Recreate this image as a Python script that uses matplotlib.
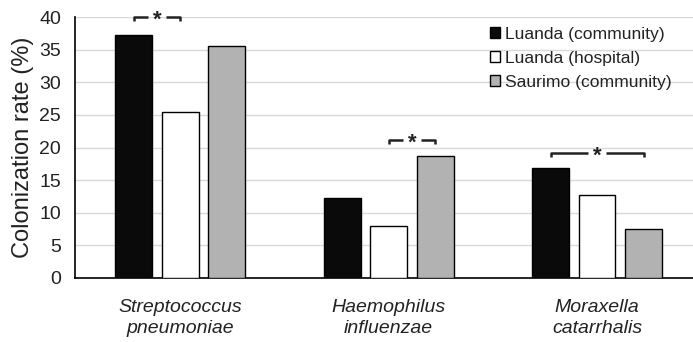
import matplotlib
matplotlib.use("Agg")
import matplotlib.pyplot as plt
import numpy as np

plt.rcParams['font.family'] = ['Liberation Sans', 'DejaVu Sans']

categories = ["Streptococcus\npneumoniae", "Haemophilus\ninfluenzae", "Moraxella\ncatarrhalis"]
series_names = ["Luanda (community)", "Luanda (hospital)", "Saurimo (community)"]
luanda_comm = [37.2, 12.3, 16.9]
luanda_hosp = [25.4, 7.9, 12.7]
saurimo_comm = [35.6, 18.7, 7.5]
colors = ["#0a0a0a", "#ffffff", "#b2b2b2"]
yticks = [0, 5, 10, 15, 20, 25, 30, 35, 40]
# significance brackets: (category index, bar index a, bar index b, y level)
brackets = [(0, 0, 1, 40.0), (1, 1, 2, 21.1), (2, 0, 2, 19.2)]

W, H = 693, 342
fig = plt.figure(figsize=(W / 100, H / 100), dpi=100)
ax = fig.add_axes([75 / W, 1 - 278 / H, 1 - 75 / W, (278 - 17) / H])

x = np.arange(len(categories))
width = 0.177
step = 0.223
series = [luanda_comm, luanda_hosp, saurimo_comm]
for i, (vals, c, name) in enumerate(zip(series, colors, series_names)):
    ax.bar(x + (i - 1) * step, vals, width, color=c, edgecolor="black",
           linewidth=1.0, label=name, zorder=3)

ax.set_ylim(0, 40)
ax.set_xlim(-0.505, (693 - 180) / 208.5)
ax.set_yticks(yticks)
ax.yaxis.grid(True, color="#d9d9d9", linewidth=1.0, zorder=0)
ax.set_axisbelow(True)
for s in ["top", "right"]:
    ax.spines[s].set_visible(False)
ax.spines["left"].set_color("black")
ax.spines["bottom"].set_color("black")
ax.spines["left"].set_linewidth(1.2)
ax.spines["bottom"].set_linewidth(1.2)
ax.tick_params(axis="y", length=0, labelsize=14, pad=10, colors="#222222")
ax.tick_params(axis="x", length=0, pad=15)
ax.set_xticks(x)
ax.set_xticklabels(categories, fontsize=14, style="italic", color="#222222",
                   linespacing=1.32)
ax.set_ylabel("Colonization rate (%)", fontsize=17, color="#222222", labelpad=4)

# brackets
for ci, a, b, yl in brackets:
    xa = x[ci] + (a - 1) * step
    xb = x[ci] + (b - 1) * step
    xm = (xa + xb) / 2
    gap = 0.045
    tick = 0.6
    ax.plot([xa, xa, xm - gap], [yl - tick, yl, yl], color="#222222",
            linewidth=1.8, clip_on=False, zorder=4, solid_capstyle="butt")
    ax.plot([xm + gap, xb, xb], [yl, yl, yl - tick], color="#222222",
            linewidth=1.8, clip_on=False, zorder=4, solid_capstyle="butt")
    ax.text(xm, yl - 0.5, "*", ha="center", va="center", fontsize=16,
            fontweight="bold", color="#222222", zorder=5)

leg = ax.legend(loc="upper left", bbox_to_anchor=(0.66, 0.99), frameon=False,
                fontsize=12.6, handlelength=0.6, handleheight=0.6,
                handletextpad=0.25, labelspacing=0.52, borderaxespad=0)
for t in leg.get_texts():
    t.set_color("#222222")

fig.savefig("out.png", dpi=100)
